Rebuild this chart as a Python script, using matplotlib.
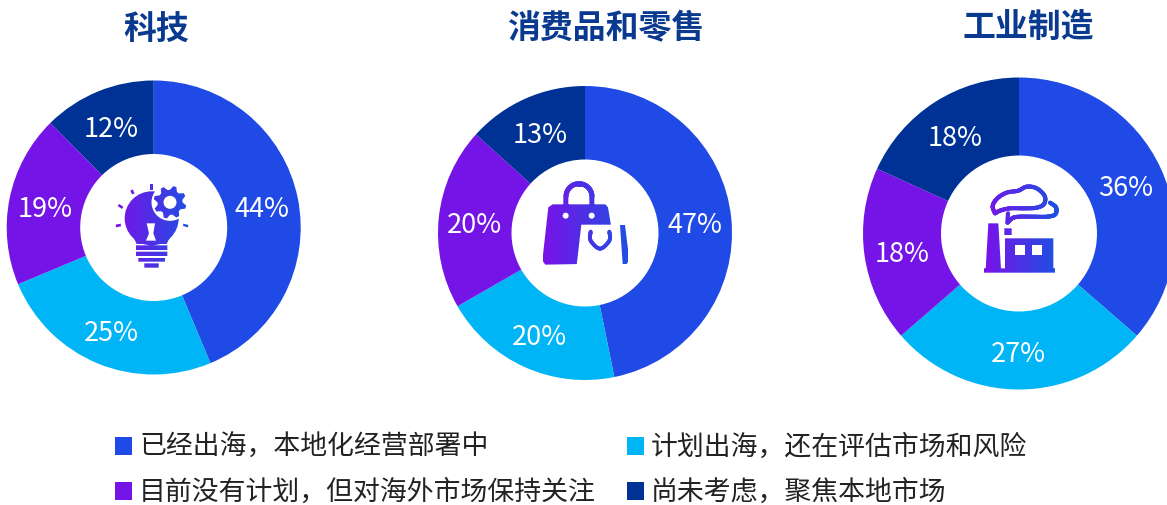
import numpy as np
import matplotlib
matplotlib.use('Agg')
import matplotlib.pyplot as plt
from matplotlib.path import Path
from matplotlib.patches import PathPatch, Rectangle
from matplotlib.collections import LineCollection
from matplotlib.colors import LinearSegmentedColormap

plt.rcParams['font.family'] = ['Noto Sans CJK SC', 'DejaVu Sans']

# data (slices, labels show them rounded)
titles = ['科技', '消费品和零售', '工业制造']
tech = [43.7, 25.0, 18.9, 12.4]
retail = [46.8, 19.9, 20.0, 13.3]
industry = [36, 27, 18, 18]
legend_labels = ['已经出海，本地化经营部署中', '计划出海，还在评估市场和风险',
                 '目前没有计划，但对海外市场保持关注', '尚未考虑，聚焦本地市场']
colors = ['#1f4ae6', '#00b5f6', '#7514e6', '#003296']

W, H = 1167, 505
fig = plt.figure(figsize=(W / 100, H / 100), dpi=100)
cmap = LinearSegmentedColormap.from_list('icon', ['#7a12e8', '#1f4fe2'])


def donut(values, cx, cy, r, hole):
    ax = fig.add_axes([(cx - r) / W, 1 - (cy + r) / H, 2 * r / W, 2 * r / H])
    ax.pie(values, colors=colors, startangle=90, counterclock=False, radius=1,
           wedgeprops=dict(width=1 - hole, linewidth=0))
    ax.set_xlim(-1, 1)
    ax.set_ylim(-1, 1)
    total = sum(values)
    ang = 0
    for v in values:
        mid = np.deg2rad(ang + v / total * 180)
        ax.text(0.752 * np.sin(mid) - 0.5 / r, 0.752 * np.cos(mid) - 4 / r, f'{v:.0f}%', color='white',
                fontsize=19.5, ha='center', va='center', clip_on=False)
        ang += v / total * 360


donut(tech, 153.7, 227.5, 147, 0.5)
donut(retail, 585, 233, 147, 0.5)
donut(industry, 1019, 233.5, 156, 0.5)

# overlay in pixel coordinates for icons, titles and legend
ov = fig.add_axes([0, 0, 1, 1], facecolor='none')
ov.set_xlim(0, W)
ov.set_ylim(H, 0)
ov.axis('off')

for t, x, y in zip(titles, [156, 605.5, 1028], [30.5, 28.5, 28.5]):
    ov.text(x, y, t, color='#0a3a90', fontsize=23.7, fontweight='bold', ha='center', va='center')

for lab, c, x, y in zip(legend_labels, colors, [114.5, 626.5, 114.5, 626.5], [445.5, 445.5, 490.5, 490.5]):
    ov.add_patch(Rectangle((x, y - 8.5), 17.5, 17.5, color=c, lw=0))
    ov.text(x + 24.5, y + 1.5, lab, color='#222222', fontsize=19.35, ha='left', va='center')


def rect(x0, y0, x1, y1):
    return Path([(x0, y0), (x1, y0), (x1, y1), (x0, y1), (x0, y0)], closed=True)


def poly(pts):
    return Path(list(pts) + [pts[0]], closed=True)


def grad_fill(paths, x0, x1, z=3):
    path = Path.make_compound_path(*paths)
    ys = path.vertices[:, 1]
    im = ov.imshow(np.linspace(0, 1, 64)[None, :], cmap=cmap, aspect='auto', vmin=0, vmax=1,
                   extent=(x0, x1, ys.max(), ys.min()), zorder=z)
    im.set_clip_path(PathPatch(path, transform=ov.transData))
    ov.set_xlim(0, W)
    ov.set_ylim(H, 0)


def white(paths, z=4):
    for p in paths:
        ov.add_patch(PathPatch(p, fc='white', ec='none', zorder=z))


def smooth(pts, n=12):
    pts = np.array(pts, float)
    pts = np.vstack([pts[0], pts, pts[-1]])
    out = []
    for i in range(1, len(pts) - 2):
        p0, p1, p2, p3 = pts[i - 1], pts[i], pts[i + 1], pts[i + 2]
        for t in np.linspace(0, 1, n, endpoint=False):
            out.append(0.5 * (2 * p1 + (p2 - p0) * t + (2 * p0 - 5 * p1 + 4 * p2 - p3) * t ** 2
                              + (3 * p1 - p0 - 3 * p2 + p3) * t ** 3))
    out.append(pts[-2])
    return np.array(out)


def grad_line(pts, x0, x1, lw, z=5):
    pts = np.asarray(pts)
    segs = np.stack([pts[:-1], pts[1:]], axis=1)
    lc = LineCollection(segs, cmap=cmap, linewidths=lw, capstyle='round', zorder=z)
    lc.set_array((segs[:, :, 0].mean(axis=1) - x0) / (x1 - x0))
    lc.set_clim(0, 1)
    ov.add_collection(lc)


def gear(cx, cy, r_out, r_in, teeth=8):
    a = np.linspace(0, 2 * np.pi, teeth * 4, endpoint=False) + np.pi / teeth / 2
    r = np.where(np.arange(teeth * 4) % 4 < 2, r_out, r_in)
    return poly(list(zip(cx + r * np.cos(a), cy + r * np.sin(a))))


# 科技 icon: bulb and gear
def z1(x, y):
    return 100 + x / 3, 170 + y / 3


bulb = Path.circle(z1(155, 145), 27)
neck = poly([z1(95, 190), z1(215, 190), z1(200, 222), z1(110, 222)])
bars = [rect(*z1(108, 226), *z1(202, 240)), rect(*z1(108, 245), *z1(202, 258)),
        rect(*z1(115, 264), *z1(195, 275)), rect(*z1(133, 280), *z1(176, 293))]
rays = [rect(*z1(150, 42), *z1(159, 60)),
        poly([z1(91, 62), z1(98, 58), z1(104, 70), z1(96, 73)]),
        poly([z1(53, 108), z1(57, 102), z1(70, 110), z1(66, 117)]),
        poly([z1(47, 164), z1(62, 161), z1(63, 169), z1(48, 172)]),
        poly([z1(250, 161), z1(265, 165), z1(264, 172), z1(249, 168)])]
grad_fill([bulb, neck] + bars + rays, 115, 190)
white([poly([z1(140, 160), z1(165, 160), z1(160, 190), z1(168, 212), z1(138, 212), z1(147, 190)])])
white([Path.circle(z1(210, 97), 18.5)])
grad_fill([gear(*z1(210, 97), 16.5, 12.5)], 115, 190, z=5)
white([Path.circle(z1(210, 97), 6.5)], z=6)


# 消费品和零售 icon: shopping bags
def z2(x, y):
    return 530 + x / 3, 170 + y / 3


big = poly([z2(68, 103), z2(226, 103), z2(234, 112), z2(262, 280), z2(46, 284), z2(37, 272), z2(55, 112)])
handle = [rect(*z2(100, 80), *z2(115, 110)), rect(*z2(178, 80), *z2(193, 110))]
grad_fill([big] + handle, 543, 628)
arc = np.deg2rad(np.linspace(180, 360, 40))
grad_line(np.c_[z2(147, 80)[0] + 13 * np.cos(arc), z2(147, 80)[1] + 13 * np.sin(arc)], 543, 628, 3.6)
white([Path.circle(z2(107, 137), 3), Path.circle(z2(185, 137), 3)])
white([poly([z2(154, 164), z2(266, 164), z2(280, 284), z2(140, 286)])], z=4)
side = poly([z2(270, 165), z2(285, 165), z2(298, 270), z2(290, 282), z2(278, 282)])
grad_fill([side], 543, 628, z=5)
grad_line(smooth([z2(182, 185), z2(182, 212), z2(210, 236), z2(238, 212), z2(238, 185)]), 543, 628, 2.8, z=6)


# 工业制造 icon: factory and smoke
def z3(x, y):
    return 970 + x / 3, 170 + y / 3


shapes = [rect(*z3(40, 295), *z3(255, 308)),
          poly([z3(55, 160), z3(85, 160), z3(93, 297), z3(47, 297)]),
          rect(*z3(105, 205), *z3(250, 297)),
          rect(*z3(103, 175), *z3(125, 195))]
grad_fill(shapes, 984, 1056)
white([rect(*z3(135, 225), *z3(165, 255)), rect(*z3(187, 225), *z3(217, 255))])
cloud = smooth([z3(75, 130), z3(68, 108), z3(82, 85), z3(110, 68), z3(145, 62), z3(170, 50), z3(200, 55),
                z3(224, 78), z3(222, 102), z3(200, 113), z3(165, 115), z3(120, 115), z3(90, 122), z3(75, 130)])
grad_line(cloud, 984, 1056, 3)
smoke = smooth([z3(240, 98), z3(258, 112), z3(256, 133), z3(232, 140), z3(190, 140), z3(150, 140), z3(128, 144),
                z3(113, 158)])
grad_line(smoke, 984, 1056, 3)
grad_line(np.array([z3(114, 130), z3(112, 158)]), 984, 1056, 3)

fig.savefig('out.png', dpi=100)
